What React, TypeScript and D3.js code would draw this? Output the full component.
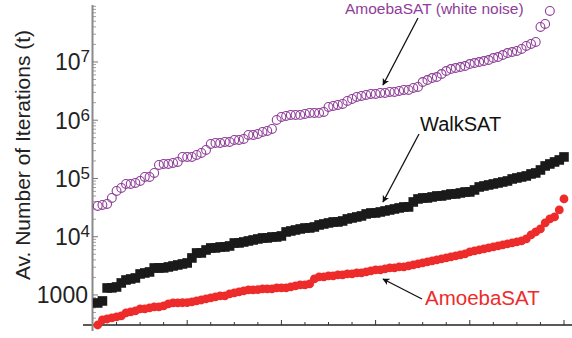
import React from 'react';
import * as d3 from 'd3';

// Instance index runs 1..N (sorted by iterations)
const amoebaWhiteNoise = [
  33720, 35080, 36490, 46260, 61000, 68670, 80430, 80500, 83670, 90540,
  106100, 106200, 124300, 170600, 177400, 177500, 184500, 192000, 234000, 234100,
  234200, 253200, 274000, 308500, 391000, 406800, 407000, 423200, 423300, 458000,
  458100, 476500, 558200, 558300, 580600, 628400, 653700, 707500, 1010000, 1137000,
  1183000, 1231000, 1232000, 1233000, 1280000, 1332000, 1333000, 1334000, 1386000, 1689000,
  1756000, 1827000, 1901000, 2141000, 2317000, 2507000, 2608000, 2713000, 2822000, 2823000,
  2936000, 2937000, 3054000, 3055000, 3177000, 3305000, 3306000, 3578000, 3722000, 4526000,
  4898000, 5301000, 5516000, 6209000, 6991000, 7565000, 7870000, 8186000, 8517000, 9218000,
  9589000, 9976000, 10380000, 10800000, 11690000, 12160000, 13170000, 14250000, 14820000, 15450000,
  16720000, 18820000, 20370000, 22050000, 39880000, 44910000, 75070000,
];

const walkSat = [
  729, 789, 1319, 1325, 1372, 1607, 1809, 1882, 1958, 2294,
  2386, 2482, 2907, 2910, 2915, 3025, 3146, 3273, 3405, 3543,
  4317, 5260, 5265, 5922, 6409, 6415, 6667, 6670, 6936, 7809,
  7815, 8124, 8452, 8792, 9147, 9515, 9520, 9899, 9905, 10300,
  12070, 12550, 13060, 13590, 14130, 14140, 14700, 15910, 16550, 17220,
  17910, 17920, 18630, 20170, 20980, 21830, 22710, 24580, 25570, 25580,
  26600, 27670, 28790, 29950, 31160, 32410, 32420, 39500, 44470, 46260,
  46270, 48120, 50060, 50070, 52080, 54180, 54190, 56360, 58630, 58640,
  63460, 71440, 74320, 77310, 80430, 83670, 87040, 90540, 98000, 102000,
  106100, 110400, 119500, 124300, 139900, 163900, 177400, 192000, 207800, 234000,
];

const amoebaSat = [
  305, 372, 387, 403, 419, 436, 491, 511, 531, 575,
  575, 598, 622, 622, 647, 701, 729, 729, 735, 740,
  758, 789, 820, 854, 888, 924, 961, 965, 1040, 1082,
  1126, 1171, 1219, 1225, 1230, 1268, 1272, 1275, 1319, 1322,
  1325, 1372, 1427, 1485, 1490, 1545, 1882, 2037, 2040, 2119,
  2125, 2205, 2210, 2294, 2300, 2386, 2390, 2482, 2582, 2686,
  2690, 2795, 2907, 2910, 3025, 3030, 3146, 3273, 3405, 3543,
  3685, 3834, 3988, 4149, 4317, 4491, 4672, 4860, 5056, 5472,
  5692, 5922, 6161, 6409, 6667, 6936, 7216, 7507, 7809, 8124,
  8452, 9147, 10720, 12070, 13590, 17220, 20170, 21830, 28790, 44470,
];

const yMajorTicks = [1000, 1e4, 1e5, 1e6, 1e7];
const yTickBase = ['1000', '10', '10', '10', '10'];
const yTickExp = ['', '4', '5', '6', '7'];
const xMinorStep = 5;
const xMajorStep = 20;

const FONT = "'Liberation Sans', Arial, Helvetica, sans-serif";
const PURPLE = '#8e3d98';
const RED = '#ee2b2b';
const BLACK = '#1a1a1a';

export default function App() {
  const W = 572;
  const H = 338;
  const x = d3.scaleLinear().domain([0, 101.7]).range([93, 572]);
  const y = d3.scaleLog().domain([305, 9.5e7]).range([325, 5]);
  const [yMin, yMax] = y.domain();

  const minorY: number[] = [];
  for (let e = 2; e <= 7; e++) {
    for (let m = 2; m <= 9; m++) {
      const v = m * Math.pow(10, e);
      if (v >= yMin && v <= yMax) minorY.push(v);
    }
  }
  const xTicks = d3.range(xMinorStep, 101.7, xMinorStep);

  const arrow = (x1: number, y1: number, x2: number, y2: number, key: string) => (
    <line key={key} x1={x1} y1={y1} x2={x2} y2={y2} stroke="#111" strokeWidth={1.3} markerEnd="url(#ah)" />
  );

  return (
    <svg width={W} height={H} style={{ position: 'absolute', left: 0, top: 0, background: '#fff' }} fontFamily={FONT}>
      <defs>
        <marker id="ah" viewBox="0 0 10 10" refX="9" refY="5" markerWidth="7" markerHeight="7" markerUnits="userSpaceOnUse" orient="auto">
          <path d="M0,0 L10,5 L0,10 L2.5,5 Z" fill="#111" />
        </marker>
      </defs>

      {/* axes */}
      <line x1={83} y1={325} x2={572} y2={325} stroke="#222" strokeWidth={1.5} />
      <line x1={92.5} y1={5} x2={92.5} y2={331} stroke="#8a8a8a" strokeWidth={2} />

      {/* y ticks */}
      {yMajorTicks.map((v) => (
        <line key={'ym' + v} x1={93} x2={98} y1={y(v)} y2={y(v)} stroke="#777" strokeWidth={1} />
      ))}
      {minorY.map((v) => (
        <line key={'yn' + v} x1={93} x2={96} y1={y(v)} y2={y(v)} stroke="#888" strokeWidth={0.8} />
      ))}
      {yMajorTicks.map((v, i) => (
        <text key={'yl' + v} x={yTickExp[i] ? 90 : 88} y={y(v) + 8.5} textAnchor="end" fontSize={23} fill="#222">
          <tspan>{yTickBase[i]}</tspan>
          {yTickExp[i] ? <tspan dy={-8} fontSize={17}>{yTickExp[i]}</tspan> : null}
        </text>
      ))}

      {/* x ticks */}
      {xTicks.map((t) => {
        const major = Math.abs(t % xMajorStep) < 1e-6;
        return <line key={'xt' + t} x1={x(t)} x2={x(t)} y1={325} y2={major ? 320 : 322} stroke="#333" strokeWidth={1} />;
      })}

      {/* y title */}
      <text transform="translate(30,155) rotate(-90)" textAnchor="middle" fontSize={21} fill="#222">
        Av. Number of Iterations (t)
      </text>

      {/* series */}
      <g>
        {amoebaWhiteNoise.map((v, i) => (
          <circle key={'p' + i} cx={x(i + 1)} cy={y(v)} r={4.4} fill="none" stroke={PURPLE} strokeWidth={1.1} />
        ))}
      </g>
      <g>
        {walkSat.map((v, i) => (
          <rect key={'b' + i} x={x(i + 1) - 4.8} y={y(v) - 4.8} width={9.6} height={9.6} fill={BLACK} />
        ))}
      </g>
      <g>
        {amoebaSat.map((v, i) => (
          <circle key={'r' + i} cx={x(i + 1)} cy={y(v)} r={4.4} fill={RED} />
        ))}
      </g>

      {/* annotations */}
      <text x={345} y={14} fontSize={15.5} fill={PURPLE}>AmoebaSAT (white noise)</text>
      {arrow(418, 18, 383, 85, 'a1')}
      <text x={420} y={131} fontSize={20} fill="#111">WalkSAT</text>
      {arrow(419, 134, 383, 202, 'a2')}
      <text x={425} y={305} fontSize={20.5} fill={RED}>AmoebaSAT</text>
      {arrow(422, 299, 383, 279, 'a3')}
    </svg>
  );
}
